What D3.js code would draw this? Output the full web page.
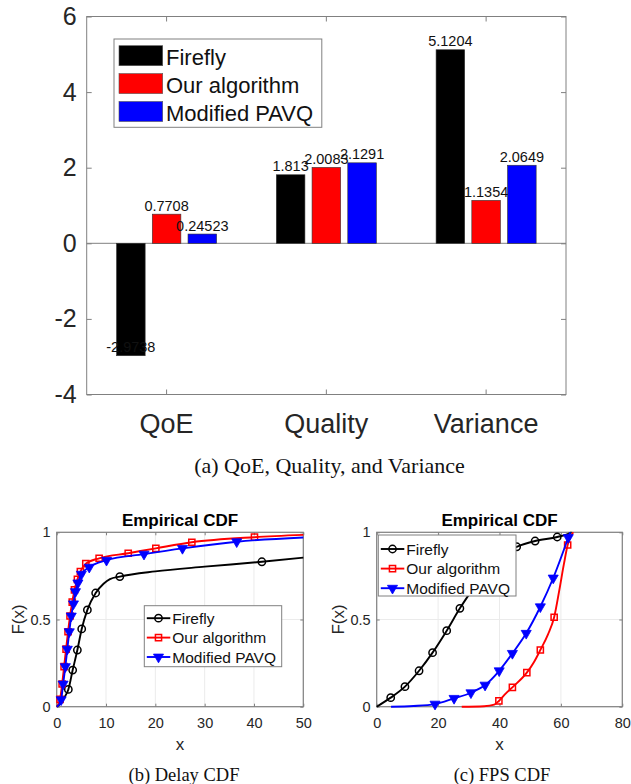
<!DOCTYPE html>
<html>
<head>
<meta charset="utf-8">
<script src="https://cdn.jsdelivr.net/npm/d3@7"></script>
<style>
  body { margin: 0; background: #fff; }
  svg { display: block; }
</style>
</head>
<body>
<svg id="fig" width="631" height="784"></svg>
<script>
// ---- (a) bar chart data ----
const categories = ["QoE", "Quality", "Variance"];
const methods = ["Firefly", "Our algorithm", "Modified PAVQ"];
const fireflyScores = [-2.9738, 1.813, 5.1204];
const ourScores = [0.7708, 2.0083, 1.1354];
const pavqScores = [0.24523, 2.1291, 2.0649];
const barTicks = [-4, -2, 0, 2, 4, 6];

// ---- (b) delay CDF: [x, F(x), marker?] ----
const delayTicksX = [0, 10, 20, 30, 40, 50];
const cdfTicksY = [0, 0.5, 1];
const delayFirefly = [[0,0,0],[1,0.025,0],[1.7,0.06,0],[2.36,0.099,1],[3.24,0.21,1],[4.19,0.325,1],
  [5.07,0.446,1],[6.22,0.555,1],[7.9,0.652,1],[9.5,0.705,0],[10.8,0.732,0],[12.8,0.746,1],
  [20,0.776,0],[30,0.803,0],[41.6,0.831,1],[50,0.855,0]];
const delayOurs = [[0,0,0],[0.3,0.01,0],[0.68,0.042,1],[1.1,0.13,1],[1.5,0.23,1],[1.9,0.33,1],
  [2.3,0.43,1],[2.7,0.52,1],[3.15,0.6,1],[3.6,0.67,1],[4.2,0.73,1],[4.8,0.775,1],[5.9,0.82,1],
  [8.6,0.851,1],[14.5,0.88,1],[20.1,0.908,1],[27.4,0.943,1],[40.1,0.972,1],[50,0.985,0]];
const delayPavq = [[0,0,0],[0.5,0.012,0],[0.9,0.04,1],[1.3,0.13,1],[1.75,0.23,1],[2.15,0.33,1],
  [2.55,0.43,1],[2.95,0.52,1],[3.4,0.59,1],[3.8,0.66,1],[4.3,0.71,1],[5.0,0.76,1],[6.6,0.8,1],
  [10.1,0.84,1],[17.7,0.875,1],[25.5,0.908,1],[36.5,0.946,1],[50,0.97,0]];

// ---- (c) FPS CDF ----
const fpsTicksX = [0, 20, 40, 60, 80];
const fpsFirefly = [[0,0,0],[4.56,0.052,1],[9.2,0.115,1],[13.8,0.206,1],[18.2,0.31,1],[22.8,0.436,1],
  [27.1,0.564,1],[31.5,0.68,1],[36,0.79,1],[40.5,0.87,1],[45.6,0.917,1],[51.6,0.95,1],
  [58.8,0.973,1],[62.2,0.99,0],[63.5,1,0]];
const fpsOurs = [[27.7,0,0],[35,0.003,0],[38.3,0.012,0],[39.8,0.033,1],[42,0.075,0],[44.2,0.111,1],
  [48.9,0.195,1],[51.2,0.255,0],[53.3,0.325,1],[55.8,0.415,0],[57.8,0.513,1],[59.5,0.67,0],
  [61,0.82,0],[62.2,0.927,1],[64,1,0]];
const fpsPavq = [[4.67,0,0],[12,0.004,0],[19,0.015,1],[25.2,0.048,1],[30.7,0.08,1],[35.3,0.124,1],
  [39.9,0.206,1],[44.2,0.306,1],[48.7,0.421,1],[53.3,0.573,1],[57.5,0.738,1],[62.4,0.97,1],[63,1,0]];

const colors = ["#000000", "#ff0000", "#0000ff"];
const shapes = ["circle", "square", "triangle"];
const sans = "'Liberation Sans', Arial, sans-serif";
const serif = "'Liberation Serif', 'Times New Roman', serif";
const ink = "#262626", frame = "#808080", gridColor = "#ebebeb";
const plain = d => String(d); // keep ASCII hyphen for negatives

const svg = d3.select("#fig");

// ================= (a) grouped bars =================
const barBox = {left: 86.7, right: 566, top: 16.5, bottom: 394.5};
const x0 = d3.scaleBand().domain(categories).range([barBox.left, barBox.right]);
const groupW = x0.bandwidth() * 0.671;
const x1 = d3.scaleBand().domain(methods).range([0, groupW]).paddingInner(0.2).paddingOuter(0.1);
const y = d3.scaleLinear().domain([-4, 6]).range([barBox.bottom, barBox.top]);
const scores = [fireflyScores, ourScores, pavqScores];

const gA = svg.append("g");

function styleAxis(g, size) {
  g.select(".domain").remove();
  g.selectAll(".tick line").attr("stroke", frame);
  g.selectAll(".tick text").attr("fill", ink).attr("font-size", size).attr("font-family", sans);
}

gA.append("g").attr("transform", `translate(${barBox.left},0)`)
  .call(d3.axisLeft(y).tickValues(barTicks).tickSize(-5).tickPadding(10).tickFormat(plain))
  .call(g => styleAxis(g, 25));
gA.append("g").attr("transform", `translate(${barBox.right},0)`)
  .call(d3.axisRight(y).tickValues(barTicks).tickSize(-5).tickFormat(""))
  .call(g => styleAxis(g, 0));
gA.append("g").attr("transform", `translate(0,${barBox.bottom})`)
  .call(d3.axisBottom(x0).tickSize(-5).tickPadding(19.3))
  .call(g => styleAxis(g, 27));
gA.append("g").attr("transform", `translate(0,${barBox.top})`)
  .call(d3.axisTop(x0).tickSize(-5).tickFormat(""))
  .call(g => styleAxis(g, 0));

gA.append("rect")
  .attr("x", barBox.left).attr("y", barBox.top)
  .attr("width", barBox.right - barBox.left).attr("height", barBox.bottom - barBox.top)
  .attr("fill", "none").attr("stroke", frame);

gA.append("line")
  .attr("x1", barBox.left).attr("x2", barBox.right)
  .attr("y1", y(0)).attr("y2", y(0))
  .attr("stroke", frame);

const barData = [];
methods.forEach((m, i) => {
  categories.forEach((c, j) => barData.push({m, i, c, v: scores[i][j]}));
});
const barX = d => x0(d.c) + (x0.bandwidth() - groupW) / 2 + x1(d.m);

gA.selectAll("rect.bar").data(barData).enter().append("rect")
  .attr("class", "bar")
  .attr("x", barX)
  .attr("width", x1.bandwidth())
  .attr("y", d => Math.min(y(d.v), y(0)))
  .attr("height", d => Math.abs(y(d.v) - y(0)))
  .attr("fill", d => colors[d.i])
  .attr("stroke", "#333")
  .attr("stroke-width", 0.6);

gA.selectAll("text.val").data(barData).enter().append("text")
  .attr("class", "val")
  .attr("x", d => barX(d) + x1.bandwidth() / 2)
  .attr("y", d => y(d.v) - 3.5)
  .attr("text-anchor", "middle")
  .attr("font-family", sans).attr("font-size", 14.5).attr("fill", "#111")
  .text(d => String(d.v));

// legend (a)
const legA = gA.append("g");
legA.append("rect").attr("x", 114).attr("y", 39).attr("width", 207.8).attr("height", 88.3)
  .attr("fill", "#fff").attr("stroke", frame);
methods.forEach((m, i) => {
  const ty = 45.7 + i * 27.9;
  legA.append("rect").attr("x", 119).attr("y", ty).attr("width", 43.7).attr("height", 20)
    .attr("fill", colors[i]).attr("stroke", "#555").attr("stroke-width", 0.6);
  legA.append("text").attr("x", 166).attr("y", ty + 19.3)
    .attr("font-family", sans).attr("font-size", 22).attr("fill", "#111").text(m);
});

svg.append("text").attr("x", 329.5).attr("y", 472.7).attr("text-anchor", "middle")
  .attr("font-family", serif).attr("font-size", 22).attr("fill", "#111")
  .text("(a) QoE, Quality, and Variance");

// ================= CDF panels =================
function marker(sel, shape, color) {
  if (shape === "circle") {
    sel.append("path").attr("d", d3.symbol(d3.symbolCircle, 42)())
      .attr("fill", "none").attr("stroke", color).attr("stroke-width", 1.5);
  } else if (shape === "square") {
    sel.append("path").attr("d", d3.symbol(d3.symbolSquare, 38)())
      .attr("fill", "none").attr("stroke", color).attr("stroke-width", 1.5);
  } else {
    sel.append("path").attr("d", d3.symbol(d3.symbolTriangle, 44)())
      .attr("transform", "rotate(180)")
      .attr("fill", color).attr("stroke", color).attr("stroke-width", 0.8);
  }
}

function drawCdf(box, xDomain, xTicks, seriesList, leg) {
  const g = svg.append("g");
  const x = d3.scaleLinear().domain(xDomain).range([box.left, box.right]);
  const yy = d3.scaleLinear().domain([0, 1]).range([box.bottom, box.top]);

  // grid
  g.append("g").selectAll("line").data(xTicks).enter().append("line")
    .attr("x1", d => x(d)).attr("x2", d => x(d))
    .attr("y1", box.top).attr("y2", box.bottom)
    .attr("stroke", gridColor);
  g.append("g").selectAll("line").data(cdfTicksY).enter().append("line")
    .attr("x1", box.left).attr("x2", box.right)
    .attr("y1", d => yy(d)).attr("y2", d => yy(d))
    .attr("stroke", gridColor);

  g.append("g").attr("transform", `translate(0,${box.bottom})`)
    .call(d3.axisBottom(x).tickValues(xTicks).tickSize(-3).tickPadding(11).tickFormat(plain))
    .call(a => styleAxis(a, 14.5));
  g.append("g").attr("transform", `translate(0,${box.top})`)
    .call(d3.axisTop(x).tickValues(xTicks).tickSize(-3).tickFormat(""))
    .call(a => styleAxis(a, 0));
  g.append("g").attr("transform", `translate(${box.left},0)`)
    .call(d3.axisLeft(yy).tickValues(cdfTicksY).tickSize(-3).tickPadding(6).tickFormat(plain))
    .call(a => styleAxis(a, 14.5));
  g.append("g").attr("transform", `translate(${box.right},0)`)
    .call(d3.axisRight(yy).tickValues(cdfTicksY).tickSize(-3).tickFormat(""))
    .call(a => styleAxis(a, 0));

  g.append("rect")
    .attr("x", box.left).attr("y", box.top)
    .attr("width", box.right - box.left).attr("height", box.bottom - box.top)
    .attr("fill", "none").attr("stroke", frame).attr("stroke-width", 1.2);

  const line = d3.line().curve(d3.curveMonotoneX).x(d => x(d[0])).y(d => yy(d[1]));
  seriesList.forEach((pts, i) => {
    g.append("path").datum(pts).attr("d", line)
      .attr("fill", "none").attr("stroke", colors[i]).attr("stroke-width", 1.9);
    g.append("g").selectAll("g").data(pts.filter(p => p[2])).enter().append("g")
      .attr("transform", d => `translate(${x(d[0])},${yy(d[1])})`)
      .each(function () { marker(d3.select(this), shapes[i], colors[i]); });
  });

  // title / labels
  const cx = (box.left + box.right) / 2;
  g.append("text").attr("x", cx).attr("y", box.top - 6)
    .attr("text-anchor", "middle").attr("font-family", sans).attr("font-weight", "bold")
    .attr("font-size", 17).attr("fill", "#000").text("Empirical CDF");
  g.append("text").attr("x", cx).attr("y", box.bottom + 43.3)
    .attr("text-anchor", "middle").attr("font-family", sans)
    .attr("font-size", 17).attr("fill", ink).text("x");
  g.append("text")
    .attr("transform", `translate(${box.left - 32.5},${(box.top + box.bottom) / 2}) rotate(-90)`)
    .attr("text-anchor", "middle").attr("font-family", sans)
    .attr("font-size", 17).attr("fill", ink).text("F(x)");

  // legend
  const lg = g.append("g");
  lg.append("rect").attr("x", leg.x).attr("y", leg.y).attr("width", leg.w).attr("height", leg.h)
    .attr("fill", "#fff").attr("stroke", frame);
  methods.forEach((m, i) => {
    const ry = leg.y + leg.first + i * leg.step;
    lg.append("line").attr("x1", leg.x + 2.5).attr("x2", leg.x + 26)
      .attr("y1", ry).attr("y2", ry).attr("stroke", colors[i]).attr("stroke-width", 1.9);
    const mk = lg.append("g").attr("transform", `translate(${leg.x + 14.2},${ry})`);
    marker(mk, shapes[i], colors[i]);
    lg.append("text").attr("x", leg.x + 28).attr("y", ry + 5.5)
      .attr("font-family", sans).attr("font-size", 15.5).attr("fill", "#111").text(m);
  });
}

drawCdf({left: 56.7, right: 303.3, top: 532.3, bottom: 706.7}, [0, 50], delayTicksX,
  [delayFirefly, delayOurs, delayPavq],
  {x: 144.3, y: 605.7, w: 137.4, h: 61, first: 12.5, step: 19.4});
drawCdf({left: 376.7, right: 622.3, top: 532.3, bottom: 706.7}, [0, 80], fpsTicksX,
  [fpsFirefly, fpsOurs, fpsPavq],
  {x: 378.3, y: 535, w: 137.7, h: 61, first: 14, step: 19.6});

svg.append("text").attr("x", 184).attr("y", 781).attr("text-anchor", "middle")
  .attr("font-family", serif).attr("font-size", 18.5).attr("fill", "#111").text("(b) Delay CDF");
svg.append("text").attr("x", 502).attr("y", 781).attr("text-anchor", "middle")
  .attr("font-family", serif).attr("font-size", 18.5).attr("fill", "#111").text("(c) FPS CDF");
</script>
</body>
</html>
